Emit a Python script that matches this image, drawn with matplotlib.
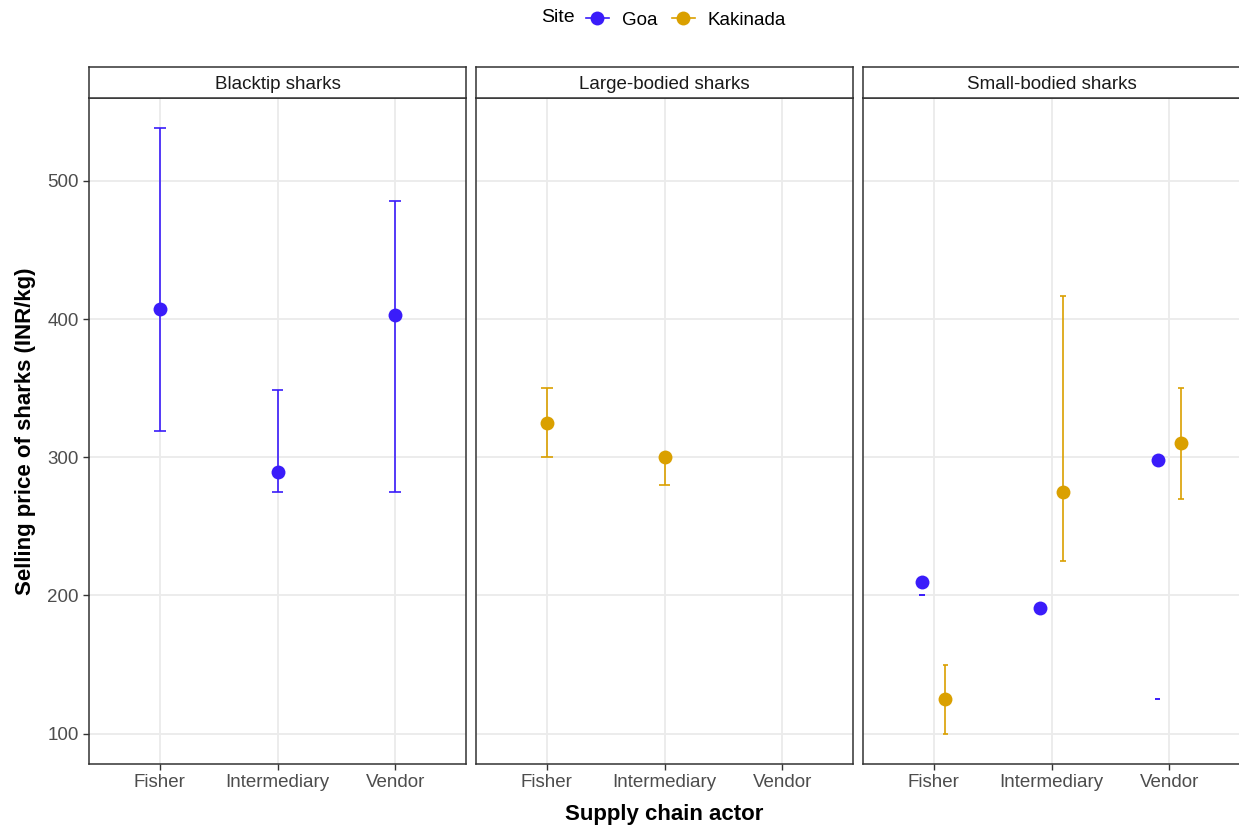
import numpy as np
import matplotlib.pyplot as plt
from matplotlib.lines import Line2D

plt.rcParams['font.family'] = ['Liberation Sans', 'DejaVu Sans']

# facets, x categories and sites
panels = ["Blacktip sharks", "Large-bodied sharks", "Small-bodied sharks"]
actors = ["Fisher", "Intermediary", "Vendor"]
sites = ["Goa", "Kakinada"]
site_colors = {"Goa": "#3A1CFA", "Kakinada": "#DAA000"}

nan = np.nan
# selling price (INR/kg): centre value, lower and upper bound, per panel & actor
goa_mid = [[407, 289.5, 403], [nan, nan, nan], [210, 191, 298]]
goa_lo = [[319, 275, 275], [nan, nan, nan], [200, nan, 125]]
goa_hi = [[538, 349, 485.5], [nan, nan, nan], [200, nan, 125]]

kak_mid = [[nan, nan, nan], [325, 300, nan], [125, 275, 310.5]]
kak_lo = [[nan, nan, nan], [300, 280, nan], [100, 225, 270]]
kak_hi = [[nan, nan, nan], [350, 300, nan], [150, 417, 350]]

series = {
    "Goa": (goa_mid, goa_lo, goa_hi),
    "Kakinada": (kak_mid, kak_lo, kak_hi),
}

W, H = 1239, 830
fig = plt.figure(figsize=(W / 100, H / 100), dpi=100)

grey20 = "#333333"
left0, pw, gap = 89, 377, 10
top, bottom, strip_h = 98, 764, 31

for p, name in enumerate(panels):
    x0 = left0 + p * (pw + gap)
    ax = fig.add_axes([x0 / W, 1 - bottom / H, pw / W, (bottom - top) / H])
    sax = fig.add_axes([x0 / W, 1 - top / H, pw / W, strip_h / H])

    # strip on top of each facet
    sax.set_xticks([])
    sax.set_yticks([])
    for s in sax.spines.values():
        s.set_color(grey20)
        s.set_linewidth(1.1)
    sax.text(0.5, 0.45, name, ha="center", va="center", fontsize=13.5,
             color="#1A1A1A", transform=sax.transAxes)

    present = [s for s in sites if not np.all(np.isnan(series[s][0][p]))]
    dodge = len(present) > 1
    cap = 0.025 if dodge else 0.05

    for k, site in enumerate(sites):
        mid, lo, hi = series[site]
        if site not in present:
            continue
        off = (-0.1 if k == 0 else 0.1) if dodge else 0.0
        xs = np.arange(1, 4) + off
        m = np.array(mid[p], float)
        l = np.array(lo[p], float)
        h = np.array(hi[p], float)
        ok = ~np.isnan(l)
        c = site_colors[site]
        ax.vlines(xs[ok], l[ok], h[ok], color=c, lw=1.2, zorder=3)
        ax.hlines(l[ok], xs[ok] - cap, xs[ok] + cap, color=c, lw=1.2, zorder=3)
        ax.hlines(h[ok], xs[ok] - cap, xs[ok] + cap, color=c, lw=1.2, zorder=3)
        okm = ~np.isnan(m)
        ax.plot(xs[okm], m[okm], "o", ms=10, color=c, mec="none", zorder=4)

    ax.set_xlim(0.4, 3.6)
    ax.set_ylim(78.1, 559.9)
    ax.set_xticks([1, 2, 3])
    ax.set_xticklabels(actors)
    ax.set_yticks([100, 200, 300, 400, 500])
    ax.grid(True, color="#EBEBEB", lw=1.3)
    ax.set_axisbelow(True)
    ax.tick_params(colors=grey20, labelcolor="#4D4D4D", labelsize=13.5,
                   length=4, width=1)
    if p > 0:
        ax.tick_params(axis="y", left=False, labelleft=False)
    for s in ax.spines.values():
        s.set_color(grey20)
        s.set_linewidth(1.1)
    if p == 0:
        ax.set_ylabel("Selling price of sharks (INR/kg)", fontsize=16,
                      fontweight="bold", labelpad=8)

fig.text((left0 + (3 * pw + 2 * gap) / 2) / W, 1 - 814 / H,
         "Supply chain actor", ha="center", va="center", fontsize=16,
         fontweight="bold")

# legend across the top
fig.text(541 / W, 1 - 17 / H, "Site", ha="left", va="center", fontsize=14)
handles = [Line2D([], [], color=site_colors[s], marker="o", ms=10, mec="none",
                  lw=1.2) for s in sites]
fig.legend(handles, sites, loc="center left", bbox_to_anchor=(586 / W, 1 - 20 / H),
           ncol=2, frameon=False, fontsize=13.5, handlelength=1.2,
           handletextpad=0.7, columnspacing=0.8, borderaxespad=0,
           borderpad=0)

fig.savefig("out.png", dpi=100)
